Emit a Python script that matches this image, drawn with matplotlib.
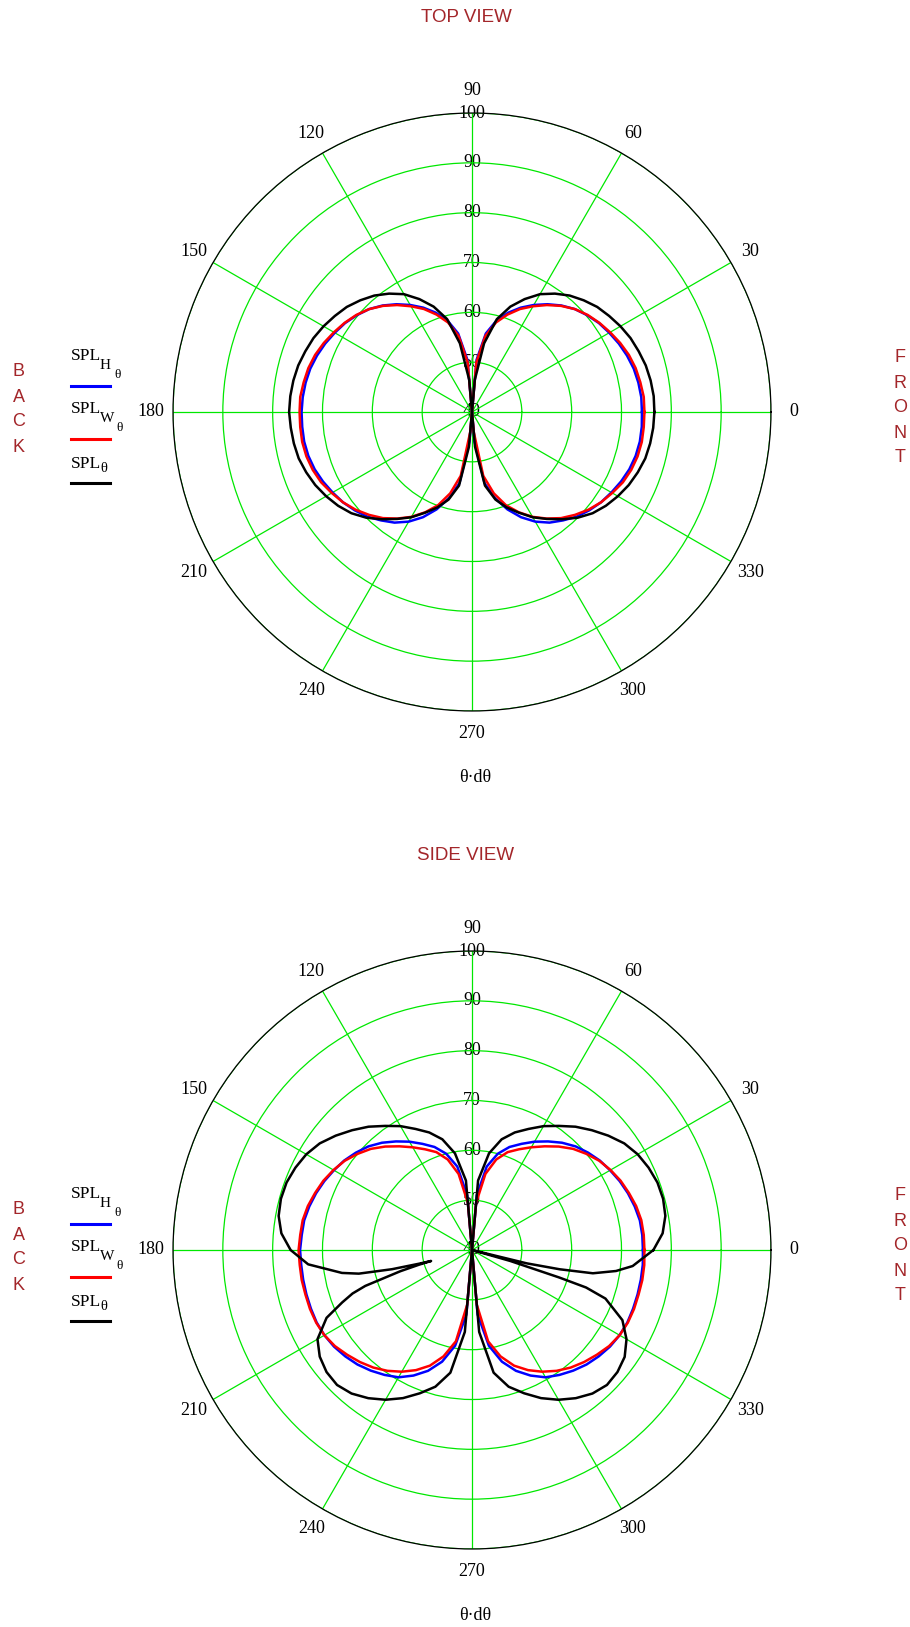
import numpy as np
import matplotlib
matplotlib.use("Agg")
import matplotlib.pyplot as plt
from matplotlib.lines import Line2D

W, H = 910, 1627
SERIF = "Liberation Serif"
SANS = "Liberation Sans"
LABEL_RED = "#a3262a"
GRID_GREEN = "#00e800"

# polar angle grid, degrees (0 = front, counter-clockwise)
ang5 = np.arange(0, 360, 5)

# top view (horizontal plane), dB
top_spl_h = [74.1, 74.1, 73.9, 73.6, 73.1, 72.5, 71.8, 71.1, 70.2, 69.2, 67.9, 66.4, 64.8, 63.1, 61.2, 59.0, 56.0, 50.5, 40.0,
             50.5, 56.0, 59.0, 61.2, 63.1, 64.8, 66.4, 67.9, 69.2, 70.2, 71.1, 71.8, 72.5, 73.1, 73.6, 73.9, 74.1,
             74.2,
             74.2, 74.2, 74.0, 73.6, 73.0, 72.3, 71.6, 70.7, 69.7, 68.4, 67.1, 65.4, 63.3, 60.8, 57.9, 54.5, 46.0,
             40.0,
             46.0, 54.5, 57.9, 60.8, 63.3, 65.4, 67.1, 68.4, 69.7, 70.7, 71.6, 72.3, 73.0, 73.6, 74.0, 74.2, 74.2]
top_spl_w = [74.6, 74.6, 74.3, 74.0, 73.5, 72.8, 72.0, 71.2, 70.3, 69.2, 67.8, 66.2, 64.5, 62.8, 60.8, 58.6, 55.5, 50.0, 40.0,
             50.0, 55.5, 58.6, 60.8, 62.8, 64.5, 66.2, 67.8, 69.2, 70.3, 71.2, 72.0, 72.8, 73.5, 74.0, 74.3, 74.6,
             74.6,
             74.6, 74.6, 74.4, 74.0, 73.4, 72.5, 71.6, 70.5, 69.2, 67.8, 66.1, 64.3, 62.2, 59.9, 56.9, 53.0, 44.0,
             40.0,
             44.0, 53.0, 56.9, 59.9, 62.2, 64.3, 66.1, 67.8, 69.2, 70.5, 71.6, 72.5, 73.4, 74.0, 74.4, 74.6, 74.6]
top_spl = [76.6, 76.6, 76.4, 76.1, 75.6, 75.1, 74.4, 73.6, 72.8, 71.7, 70.5, 69.0, 67.3, 65.0, 62.5, 59.3, 54.0, 46.5, 40.0,
           46.5, 54.0, 59.3, 62.5, 65.0, 67.3, 69.0, 70.5, 71.7, 72.8, 73.6, 74.4, 75.1, 75.6, 76.1, 76.4, 76.6,
           76.7,
           76.5, 76.3, 76.0, 75.4, 74.7, 73.8, 72.8, 71.6, 70.0, 68.1, 66.2, 64.4, 62.3, 60.4, 58.2, 55.0, 47.0,
           40.0,
           47.0, 55.0, 58.2, 60.4, 62.3, 64.4, 66.2, 68.1, 70.0, 71.6, 72.8, 73.8, 74.7, 75.4, 76.0, 76.3, 76.5]

# side view (vertical plane), dB
side_spl_h = [74.3, 74.3, 74.2, 73.8, 73.3, 72.7, 72.0, 71.3, 70.4, 69.4, 68.1, 66.6, 65.1, 63.5, 62.0, 60.0, 57.0, 51.0, 40.0,
              51.0, 57.0, 60.0, 62.0, 63.5, 65.1, 66.6, 68.1, 69.4, 70.4, 71.3, 72.0, 72.7, 73.3, 73.8, 74.2, 74.3,
              74.5,
              74.4, 74.4, 74.4, 74.4, 74.4, 74.2, 73.8, 73.2, 72.5, 71.6, 70.6, 69.5, 67.8, 65.8, 63.2, 59.5, 53.0,
              40.0,
              53.0, 59.5, 63.2, 65.8, 67.8, 69.5, 70.6, 71.6, 72.5, 73.2, 73.8, 74.2, 74.4, 74.4, 74.4, 74.4, 74.4]
side_spl_w = [74.6, 74.6, 74.5, 74.1, 73.5, 72.9, 72.1, 71.2, 70.0, 68.7, 67.1, 65.4, 63.8, 62.3, 60.9, 58.8, 55.5, 49.5, 40.0,
              49.5, 55.5, 58.8, 60.9, 62.3, 63.8, 65.4, 67.1, 68.7, 70.0, 71.2, 72.1, 72.9, 73.5, 74.1, 74.5, 74.6,
              74.8,
              74.7, 74.7, 74.6, 74.6, 74.5, 74.2, 73.6, 72.7, 71.8, 70.8, 69.6, 68.2, 66.6, 64.7, 62.1, 58.6, 51.0,
              40.0,
              51.0, 58.6, 62.1, 64.7, 66.6, 68.2, 69.6, 70.8, 71.8, 72.7, 73.6, 74.2, 74.5, 74.6, 74.6, 74.7, 74.7]

# combined side response has narrow nulls, so it gets its own angles
side_spl_ang = [0, 5, 10, 15, 20, 25, 30, 35, 40, 45, 50, 55, 60, 65, 70, 75, 80, 85, 90,
                95, 100, 105, 110, 115, 120, 125, 130, 135, 140, 145, 150, 155, 160, 165, 170, 175, 180,
                185, 190, 191.8, 193.5, 194.5, 195, 195.5, 196.5, 198.6, 200, 202, 205, 210, 215, 220, 225,
                230, 235, 240, 245, 250, 255, 260, 265, 270,
                275, 280, 285, 290, 295, 300, 305, 310, 315, 320, 325, 330, 335, 340, 341.8, 342.5, 344, 345,
                346.3, 347.6, 349.1, 351.7, 354.3]
side_spl = [76.4, 78.4, 79.4, 79.7, 79.6, 79.1, 78.4, 77.3, 75.7, 74.0, 72.3, 70.4, 68.7, 66.8, 65.1, 63.0, 59.7, 54.0, 40.0,
            54.0, 59.7, 63.0, 65.1, 66.8, 68.7, 70.4, 72.3, 74.0, 75.7, 77.3, 78.4, 79.1, 79.6, 79.7, 79.4, 78.4, 76.4,
            73.0, 66.5, 63.2, 56.5, 51.0, 48.5, 51.0, 55.0, 62.6, 65.5, 68.1, 72.2, 75.8, 77.3, 78.1, 78.3,
            77.6, 76.3, 74.7, 72.8, 70.6, 68.4, 65.0, 56.5, 40.0,
            56.5, 65.0, 68.4, 70.6, 72.8, 74.7, 76.3, 77.6, 78.3, 78.1, 77.4, 75.8, 73.3, 68.5, 64.1, 58.4, 48.0, 40.0,
            51.3, 58.0, 64.7, 69.2, 72.4]

r_ticks = [50, 60, 70, 80, 90, 100]
theta_ticks = [0, 30, 60, 90, 120, 150, 180, 210, 240, 270, 300, 330]


def fx(x):
    return x / W


def fy(y):
    return 1 - y / H


def closed(ang, vals):
    a = np.radians(np.append(ang, ang[0]))
    v = np.append(vals, vals[0])
    return a, v


def legend_label(fig, x, y, sub, color, cy, line_y):
    # SPL with stacked subscripts, then a short line sample below it
    fig.text(fx(x), fy(cy + y), "SPL", ha="left", va="top", fontsize=12.5, family=SERIF)
    if sub:
        fig.text(fx(x + 29), fy(cy + y + 11), sub, ha="left", va="top", fontsize=11, family=SERIF)
        fig.text(fx(x + 29 + (16 if sub == "W" else 14)), fy(cy + y + 21), "θ", ha="left", va="top",
                 fontsize=9.5, family=SERIF)
    else:
        fig.text(fx(x + 29), fy(cy + y + 6), "θ", ha="left", va="top", fontsize=10.5, family=SERIF)
    fig.add_artist(Line2D([fx(71), fx(110)], [fy(cy + line_y)] * 2, color=color, lw=2.2))


def draw_view(fig, cy, title, curves):
    cx, rad = 472, 299
    ax = fig.add_axes([fx(cx - rad), fy(cy + rad), 2 * rad / W, 2 * rad / H], projection="polar")
    ax.set_facecolor("none")
    ax.set_ylim(40, 100)
    ax.set_yticks(r_ticks)
    ax.set_yticklabels([])
    ax.set_xticks(np.radians(theta_ticks))
    ax.set_xticklabels([])
    ax.tick_params(length=0)
    ax.grid(True, color=GRID_GREEN, lw=0.9)
    ax.spines["polar"].set_color("black")
    ax.spines["polar"].set_linewidth(0.9)

    for r in r_ticks:
        ax.text(np.pi / 2, r, str(r), ha="center", va="center", fontsize=13, family=SERIF, zorder=1)
    ax.text(0, 40, "40", ha="center", va="center", fontsize=13, family=SERIF, zorder=1)
    for t in theta_ticks:
        ax.text(np.radians(t), 104.5, str(t), ha="center", va="center", fontsize=13, family=SERIF)

    for ang, vals, color in curves:
        a, v = closed(ang, vals)
        ax.plot(a, v, color=color, lw=1.8, zorder=3)

    fig.text(fx(466), fy(cy - 395), title, ha="center", va="center", fontsize=13.5, family=SANS, color=LABEL_RED)
    fig.text(fx(475), fy(cy + 366), "θ·dθ", ha="center", va="center", fontsize=13, family=SERIF)

    for i, ch in enumerate("BACK"):
        fig.text(fx(19), fy(cy - 40 + 25 * i), ch, ha="center", va="center", fontsize=13, family=SANS, color=LABEL_RED)
    for i, ch in enumerate("FRONT"):
        fig.text(fx(900), fy(cy - 54 + 25 * i), ch, ha="center", va="center", fontsize=13, family=SANS, color=LABEL_RED)

    legend_label(fig, 71, -64, "H", "blue", cy, -26)
    legend_label(fig, 71, -11, "W", "red", cy, 27)
    legend_label(fig, 71, 44, "", "black", cy, 71)
    return ax


fig = plt.figure(figsize=(W / 100, H / 100), dpi=100)
fig.patch.set_facecolor("white")

draw_view(fig, 412, "TOP VIEW",
          [(ang5, top_spl_h, "blue"), (ang5, top_spl_w, "red"), (ang5, top_spl, "black")])
draw_view(fig, 1250, "SIDE VIEW",
          [(ang5, side_spl_h, "blue"), (ang5, side_spl_w, "red"), (side_spl_ang, side_spl, "black")])

fig.savefig("out.png", dpi=100)
